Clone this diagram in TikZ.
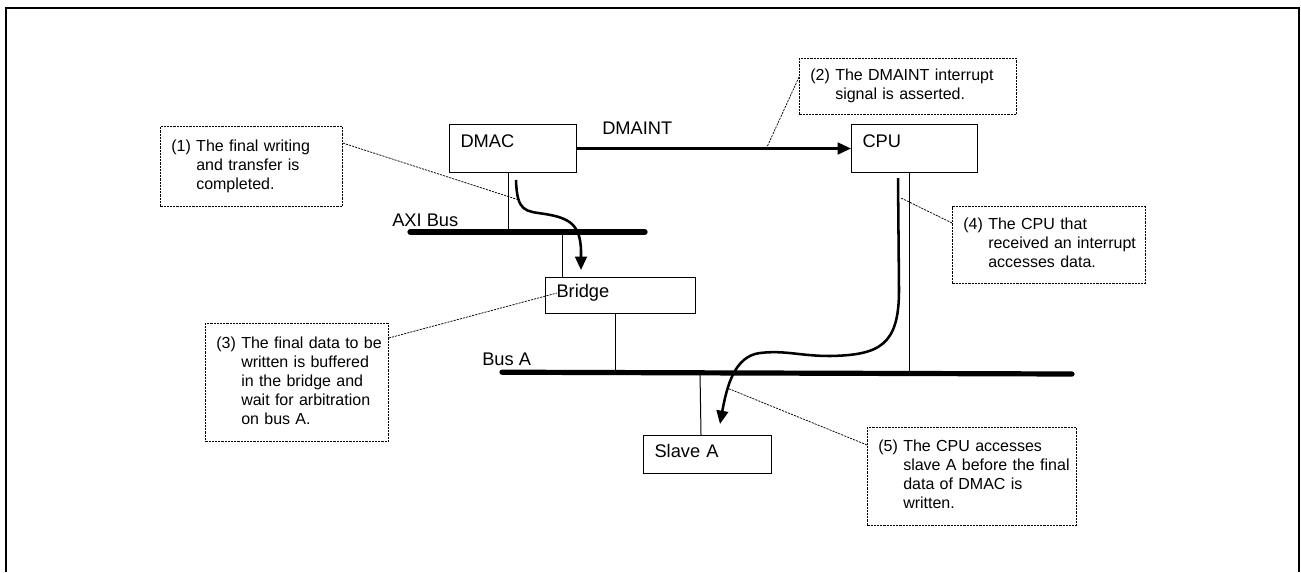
\documentclass[tikz,border=0pt]{standalone}
\usepackage{fontspec}
\setmainfont{Liberation Sans}
\usetikzlibrary{arrows.meta,calc}
\begin{document}
\begin{tikzpicture}[x=0.75pt,y=-0.75pt,
  blk/.style={draw,line width=0.75pt,anchor=north west,inner xsep=8.25pt,inner ysep=0pt,align=left,font=\fontsize{13.7}{16}\selectfont},
  note/.style={draw,line width=0.55pt,dash pattern=on 1.6pt off 0.8pt,anchor=north west,inner xsep=8.25pt,inner ysep=0pt,align=left,font=\fontsize{12}{14.25}\selectfont},
  lead/.style={line width=0.55pt,dash pattern=on 1.6pt off 0.8pt},
  tap/.style={line width=0.75pt},
  bus/.style={line width=3.9pt,line cap=round},
  flow/.style={line width=1.9pt,-{Triangle[length=10pt,width=8.75pt]}},
  lbl/.style={font=\fontsize{13.7}{16}\selectfont,inner sep=0pt,anchor=base west}]

\useasboundingbox (0,0) rectangle (1301,572);
\draw[line width=1.75pt] (6.2,572) -- (6.2,7.8) -- (1299.3,7.8) -- (1299.3,572);

% blocks
\node[blk,text width=78.75pt,text height=17.5pt,text depth=18.5pt] (dmac) at (449,124) {DMAC};
\node[blk,text width=78pt,text height=17.5pt,text depth=18.5pt] (cpu) at (851,124) {CPU};
\node[blk,text width=96pt,text height=15.2pt,text depth=11.8pt] (bridge) at (545,277) {Bridge};
\node[blk,text width=79.5pt,text height=16.7pt,text depth=11.8pt] (slave) at (643,435) {Slave A};

% labels
\node[lbl] (dmaint) at (602,134) {DMAINT};
\node[lbl] (axil) at (392,226) {AXI Bus};
\node[lbl] (busal) at (482,365) {Bus A};

% buses
\coordinate (axiL) at (410,232);
\coordinate (axiR) at (645,232);
\draw[bus] (axiL) -- (axiR);
\coordinate (busAL) at (502,372.2);
\coordinate (busAR) at (1072,374);
\draw[bus] (busAL) -- (busAR);

% taps
\coordinate (t1) at (508,232);
\draw[tap] (dmac.south -| t1) -- (t1);
\coordinate (t2) at (562,232);
\draw[tap] (t2) -- (t2 |- bridge.north);
\coordinate (t3) at (615.5,372.7);
\draw[tap] (bridge.south -| t3) -- (t3);
\coordinate (t4) at (909,373.5);
\draw[tap] (cpu.south -| t4) -- (t4);
\coordinate (t5) at (700,373);
\draw[tap] (t5) -- ($(slave.north west)+(58,0)$);

% flows
\draw[flow] (dmac.east) -- (cpu.west);
\draw[flow] ($(dmac.south west)+(67,7)$) .. controls (517,212) and (525,211) .. (545,214)
  .. controls (570,218) and (580,225) .. (581,250) -- ($(bridge.north west)+(36,-7)$);
\draw[flow] ($(cpu.south west)+(47,5)$) -- (899,290) .. controls (899,345) and (880,355) .. (830,356)
  .. controls (800,356) and (785,350) .. (760,353) .. controls (735,356) and (727,385) .. ($(slave.north west)+(77,-11)$);

% annotations
\node[note,text width=120pt,minimum height=60pt] (n1) at (160,126)
  {\begin{tabular}{@{}l@{\ }l@{}}(1)&The final writing\\&and transfer is\\&completed.\end{tabular}};
\node[note,text width=146.25pt,minimum height=42pt] (n2) at (799,58)
  {\begin{tabular}{@{}l@{\ }l@{}}(2)&The DMAINT interrupt\\&signal is asserted.\end{tabular}};
\node[note,text width=120.75pt,minimum height=88.5pt] (n3) at (205,323)
  {\begin{tabular}{@{}l@{\ }l@{}}(3)&The final data to be\\&written is buffered\\&in the bridge and\\&wait for arbitration\\&on bus A.\end{tabular}};
\node[note,text width=128.25pt,minimum height=57.75pt] (n4) at (952,206)
  {\begin{tabular}{@{}l@{\ }l@{}}(4)&The CPU that\\&received an interrupt\\&accesses data.\end{tabular}};
\node[note,text width=140.25pt,minimum height=73.5pt] (n5) at (867,427)
  {\begin{tabular}{@{}l@{\ }l@{}}(5)&The CPU accesses\\&slave A before the final\\&data of DMAC is\\&written.\end{tabular}};

% leaders
\coordinate (e1) at (519,200);
\draw[lead] ($(n1.north east)+(0,17)$) -- (e1);
\coordinate (e2) at (767,147);
\draw[lead] ($(n2.north west)+(0,19)$) -- (e2);
\coordinate (e3) at (557,293);
\draw[lead] ($(n3.north east)+(0,15)$) -- (e3);
\coordinate (e4) at (901,198);
\draw[lead] ($(n4.north west)+(0,17)$) -- (e4);
\coordinate (e5) at (727,388);
\draw[lead] ($(n5.north west)+(0,18)$) -- (e5);
\end{tikzpicture}
\end{document}
